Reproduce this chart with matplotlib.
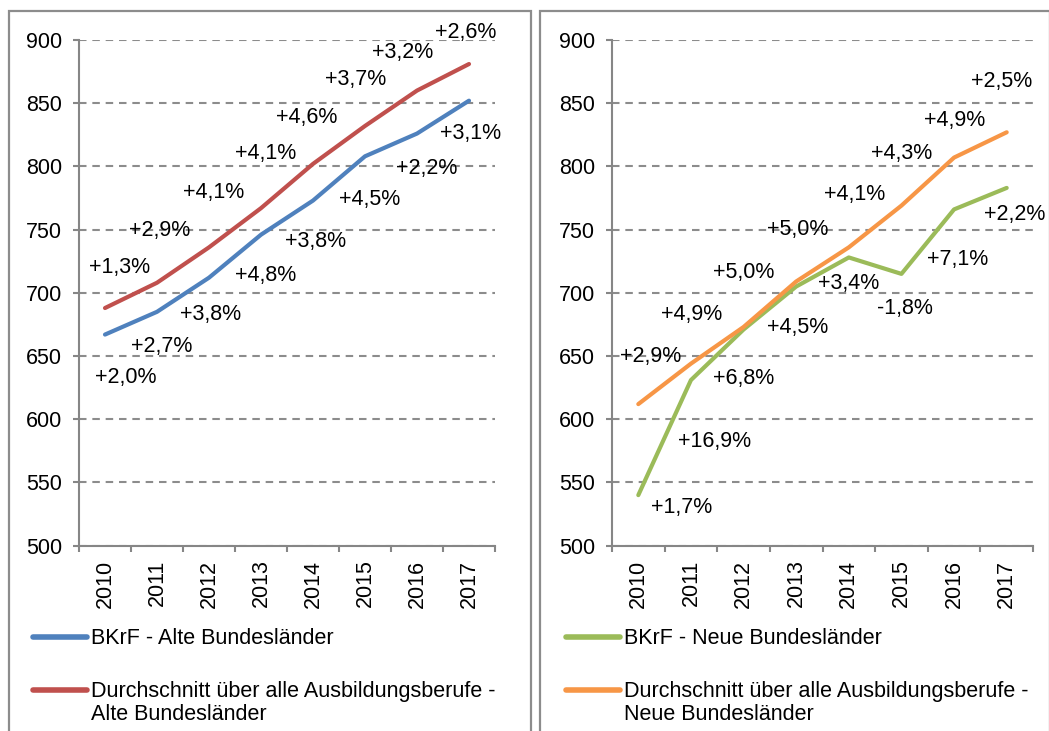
import matplotlib
matplotlib.use("Agg")
import matplotlib.pyplot as plt
from matplotlib.lines import Line2D
from matplotlib.patches import Rectangle

plt.rcParams['font.family'] = ['Liberation Sans', 'DejaVu Sans']

# Daten
jahre = ['2010', '2011', '2012', '2013', '2014', '2015', '2016', '2017']

bkrf_alt = [667, 685, 712, 746, 773, 808, 826, 852]
schnitt_alt = [688, 708, 736, 767, 802, 832, 860, 881]
bkrf_neu = [540, 631, 671, 705, 728, 715, 766, 783]
schnitt_neu = [612, 644, 673, 709, 736, 769, 807, 827]

lab_bkrf_alt = ['+2,0%', '+2,7%', '+3,8%', '+4,8%', '+3,8%', '+4,5%', '+2,2%', '+3,1%']
lab_schnitt_alt = ['+1,3%', '+2,9%', '+4,1%', '+4,1%', '+4,6%', '+3,7%', '+3,2%', '+2,6%']
lab_bkrf_neu = ['+1,7%', '+16,9%', '+6,8%', '+4,5%', '+3,4%', '-1,8%', '+7,1%', '+2,2%']
lab_schnitt_neu = ['+2,9%', '+4,9%', '+5,0%', '+5,0%', '+4,1%', '+4,3%', '+4,9%', '+2,5%']

# Verschiebung der Beschriftungen (Pixel, x nach rechts, y nach unten)
off_bkrf_alt = [(21, 43), (5, 35), (2, 37), (5, 41), (3, 41), (5, 43), (10, 35), (2, 33)]
off_schnitt_alt = [(15, -41), (3, -52), (5, -55), (5, -55), (-6, -46), (-9, -46), (-14, -38), (-3, -32)]
off_bkrf_neu = [(43, 12), (24, 61), (0, 49), (1, 41), (0, 26), (3, 35), (4, 50), (8, 27)]
off_schnitt_neu = [(12, -48), (1, -49), (0, -54), (1, -52), (6, -53), (0, -52), (1, -37), (-5, -51)]

W, H = 1049, 731
BLAU, ROT, GRUEN, ORANGE = '#4F81BD', '#C0504D', '#9BBB59', '#F79646'
GRAU = '#868686'
FS = 15.5

fig = plt.figure(figsize=(W / 100, H / 100), dpi=100)

# Rahmen der beiden Panels
for x0, x1 in [(9, 531), (540, 1050)]:
    fig.patches.append(Rectangle((x0 / W, -0.1), (x1 - x0) / W, (H - 11) / H + 0.1,
                                 transform=fig.transFigure, fill=False,
                                 edgecolor='#8c8c8c', linewidth=1.6))


def panel(x0, x1, serien):
    ax = fig.add_axes([x0 / W, (H - 545.7) / H, (x1 - x0) / W, (545.7 - 40) / H])
    xs = list(range(len(jahre)))
    for werte, farbe, labels, offs, _ in serien:
        ax.plot(xs, werte, color=farbe, linewidth=3, solid_capstyle='round', zorder=3)
        for i, (w, t) in enumerate(zip(werte, labels)):
            dx, dy = offs[i]
            ax.annotate(t, (xs[i], w), xytext=(dx, -dy), textcoords='offset pixels',
                        ha='center', va='center', fontsize=FS, color='black', zorder=4)
    ax.set_xlim(-0.5, len(jahre) - 0.5)
    ax.set_ylim(500, 900)
    ax.set_yticks(range(500, 901, 50))
    ax.set_xticks(xs)
    ax.set_xticklabels(jahre, rotation=90, fontsize=FS)
    ax.set_xticks([x - 0.5 for x in range(len(jahre) + 1)], minor=True)
    ax.tick_params(axis='x', which='major', length=0, pad=10)
    ax.tick_params(axis='x', which='minor', length=4.3, width=1.5, color=GRAU)
    ax.tick_params(axis='y', length=4.3, width=1.5, color=GRAU, labelsize=FS, pad=8)
    ax.grid(axis='y', linestyle=(0, (3.6, 2.8)), color='#8c8c8c', linewidth=1.5)
    ax.set_axisbelow(True)
    for s in ['top', 'right']:
        ax.spines[s].set_visible(False)
    for s in ['left', 'bottom']:
        ax.spines[s].set_color(GRAU)
        ax.spines[s].set_linewidth(1.5)
    ax.patch.set_alpha(0)

    # Legende von Hand
    lx0 = x0 - 46
    for j, (_, farbe, _, _, name) in enumerate(serien):
        y = 637 + j * 53
        fig.lines.append(Line2D([lx0 / W, (lx0 + 54) / W], [1 - y / H, 1 - y / H],
                                transform=fig.transFigure, color=farbe, linewidth=4,
                                solid_capstyle='round'))
        for k, zeile in enumerate(name.split('\n')):
            fig.text((lx0 + 58) / W, 1 - (y + 7 + k * 23) / H, zeile, fontsize=FS,
                     ha='left', va='baseline')
    return ax


panel(79, 495, [
    (bkrf_alt, BLAU, lab_bkrf_alt, off_bkrf_alt, 'BKrF - Alte Bundesländer'),
    (schnitt_alt, ROT, lab_schnitt_alt, off_schnitt_alt,
     'Durchschnitt über alle Ausbildungsberufe -\nAlte Bundesländer'),
])
panel(612, 1033, [
    (bkrf_neu, GRUEN, lab_bkrf_neu, off_bkrf_neu, 'BKrF - Neue Bundesländer'),
    (schnitt_neu, ORANGE, lab_schnitt_neu, off_schnitt_neu,
     'Durchschnitt über alle Ausbildungsberufe -\nNeue Bundesländer'),
])

fig.savefig('out.png', dpi=100)
